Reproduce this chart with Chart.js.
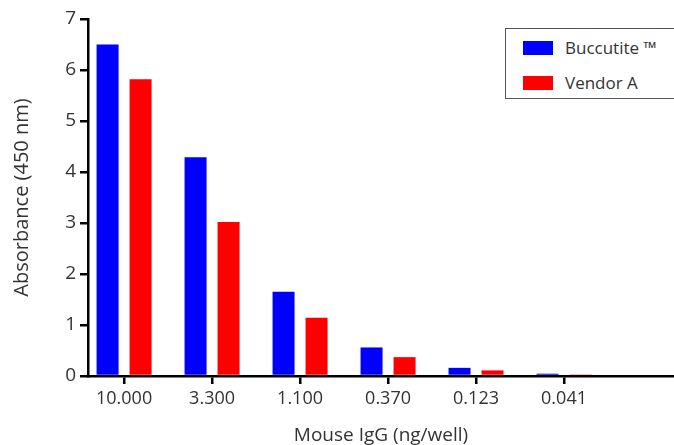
<!DOCTYPE html>
<html>
<head>
<meta charset="utf-8">
<script src="https://cdn.jsdelivr.net/npm/chart.js@4"></script>
<style>
  html, body { margin: 0; padding: 0; background: #fff; }
  #wrap { position: relative; width: 674px; height: 445px; overflow: hidden; }
  #legend {
    position: absolute; left: 505px; top: 28px; width: 180px; height: 71px;
    border: 1px solid #555; box-sizing: border-box; background: #fff;
    font-family: "Open Sans", sans-serif; font-size: 17px; color: #333;
  }
  #legend .item { position: absolute; left: 17px; height: 20px; line-height: 20px; white-space: nowrap; }
  #legend .sw { display: inline-block; width: 30px; height: 14px; vertical-align: -1px; margin-right: 12px; }
</style>
</head>
<body>
<div id="wrap">
  <canvas id="grafico" width="674" height="445"></canvas>
  <div id="legend"></div>
</div>
<script>
// datos
const categorias = ['10.000', '3.300', '1.100', '0.370', '0.123', '0.041'];
const buccutite = [6.5, 4.29, 1.65, 0.56, 0.16, 0.045];
const vendorA = [5.82, 3.02, 1.14, 0.37, 0.11, 0.03];
const series = ['Buccutite \u2122', 'Vendor A'];
const colores = ['#0000ff', '#ff0000'];

const aPuntos = (arr) => arr.map((v, i) => ({ x: i, y: v }));

const familia = '"Open Sans", sans-serif';
const gris = '#333';

var ctx = document.getElementById('grafico').getContext('2d');
var grafico = new Chart(ctx, {
    type: 'bar',
    data: {
        datasets: [
            { label: series[0], data: aPuntos(buccutite), backgroundColor: colores[0], borderWidth: 0 },
            { label: series[1], data: aPuntos(vendorA), backgroundColor: colores[1], borderWidth: 0 }
        ]
    },
    options: {
        responsive: false,
        animation: false,
        categoryPercentage: 0.75,
        barPercentage: 2 / 3,
        layout: { padding: { top: 19, right: 0, left: 0, bottom: 0 } },
        plugins: {
            legend: { display: false },
            tooltip: { enabled: false }
        },
        scales: {
            x: {
                type: 'linear',
                min: -0.41,
                max: 6.25,
                offset: false,
                // solo las 6 categorias llevan marca
                afterBuildTicks: (scale) => {
                    scale.ticks = scale.ticks.filter(t => Number.isInteger(t.value) && t.value >= 0 && t.value < categorias.length);
                },
                afterFit: (scale) => { scale.height = 69; },
                ticks: {
                    stepSize: 1,
                    includeBounds: false,
                    autoSkip: false,
                    maxRotation: 0,
                    padding: 4,
                    color: gris,
                    font: { family: familia, size: 18 },
                    callback: (value) => categorias[value]
                },
                grid: { offset: false, drawOnChartArea: false, drawTicks: true, tickLength: 8, color: '#000', lineWidth: 2.5 },
                border: { color: '#000', width: 2.5 },
                title: {
                    display: true,
                    text: 'Mouse IgG (ng/well)',
                    color: gris,
                    font: { family: familia, size: 19, lineHeight: 1 },
                    padding: { top: 0, bottom: 0 }
                }
            },
            y: {
                min: 0,
                max: 7,
                afterFit: (scale) => { scale.width = 88; },
                ticks: { stepSize: 1, padding: 4, color: gris, font: { family: familia, size: 19 } },
                grid: { drawOnChartArea: false, drawTicks: true, tickLength: 8, color: '#000', lineWidth: 2.5 },
                border: { color: '#000', width: 2.5 },
                title: {
                    display: true,
                    text: 'Absorbance (450 nm)',
                    color: gris,
                    font: { family: familia, size: 20, lineHeight: 1.2 },
                    padding: { top: 10, bottom: 0 }
                }
            }
        }
    }
});

// leyenda en html con los datasets
const leyenda = document.getElementById('legend');
grafico.data.datasets.forEach((ds, i) => {
    const item = document.createElement('div');
    item.className = 'item';
    item.style.top = (9 + i * 35) + 'px';
    item.innerHTML = '<span class="sw" style="background:' + ds.backgroundColor + '"></span>';
    item.appendChild(document.createTextNode(ds.label));
    leyenda.appendChild(item);
});
</script>
</body>
</html>
